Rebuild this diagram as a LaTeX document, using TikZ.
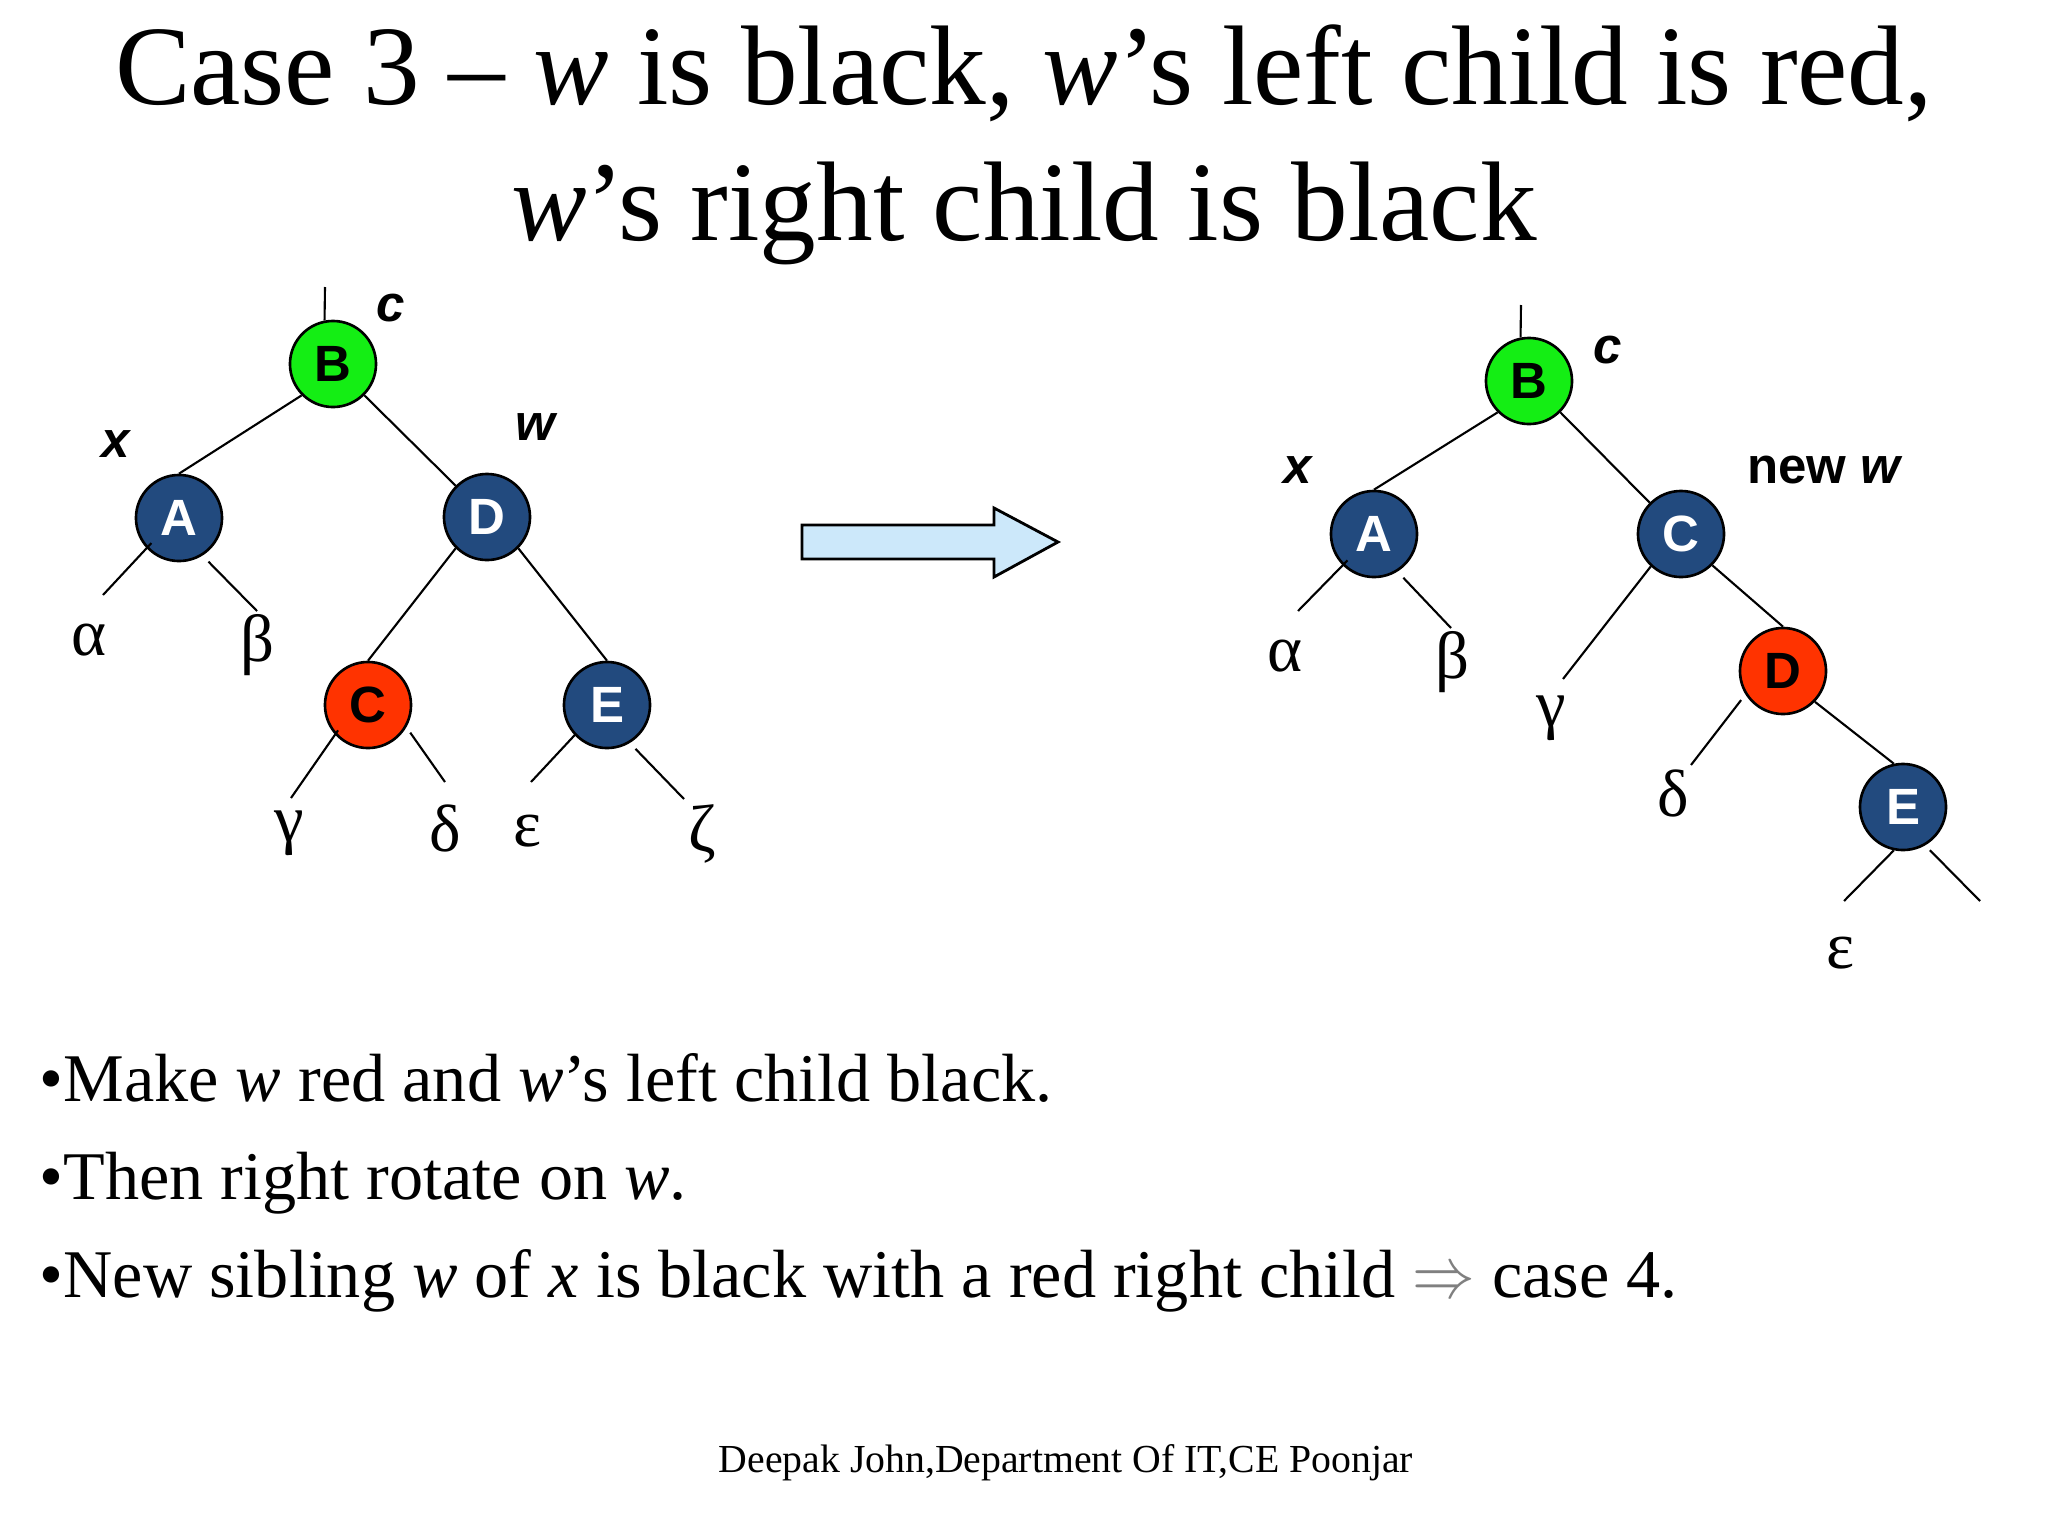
\documentclass[tikz,border=0pt]{standalone}
\usepackage{fontspec}
\usepackage{graphicx}
\setmainfont{Liberation Serif}
\newfontfamily\arialfont{Liberation Sans}
\definecolor{nodeblue}{HTML}{224A7E}
\definecolor{nodered}{HTML}{FF3300}
\definecolor{nodegreen}{HTML}{14EE14}
\definecolor{arrowfill}{HTML}{CCE8FA}
\definecolor{implgray}{HTML}{808080}
\begin{document}
\begin{tikzpicture}[x=0.01cm,y=-0.01cm,
  rb/.style={circle,draw=black,line width=0.75pt,minimum size=0.86cm,inner sep=0pt,font=\arialfont\bfseries\fontsize{14.5}{17}\selectfont},
  bnode/.style={rb,fill=nodeblue,text=white},
  rnode/.style={rb,fill=nodered,text=black},
  gnode/.style={rb,fill=nodegreen,text=black},
  link/.style={line width=0.6pt},
  greek/.style={inner sep=0pt,font=\fontsize{19}{22}\selectfont},
  lbl/.style={inner sep=0pt,font=\arialfont\bfseries\itshape\fontsize{14.5}{17}\selectfont},
  lblup/.style={inner sep=0pt,font=\arialfont\bfseries\fontsize{14.5}{17}\selectfont},
  txt/.style={inner sep=0pt,anchor=base west}
]
\fill[white] (0,0) rectangle (2048,1536);
\useasboundingbox (0,0) rectangle (2048,1536);

% title
\node[anchor=base,inner sep=0pt,font=\fontsize{32.2}{38}\selectfont] (t1) at (1024,104) {Case 3 -- \textit{w} is black, \textit{w}'s left child is red,};
\node[anchor=base,inner sep=0pt,font=\fontsize{32.2}{38}\selectfont] (t2) at (1024,240) {\textit{w}'s right child is black};

% left tree
\node[gnode] (B) at (333,364) {B};
\node[bnode] (A) at (179,518) {A};
\node[bnode] (D) at (487,517) {D};
\node[rnode] (C) at (368,705) {C};
\node[bnode] (E) at (607,705) {E};
\node[lbl] (lc) at (391,308) {c};
\node[lbl] (lx) at (116,444) {x};
\node[lbl] (lw) at (535,427) {w};
\node[greek] (al) at (89,640) {α};
\node[greek] (be) at (257,645) {β};
\node[greek] (ga) at (289,833) {γ};
\node[greek] (de) at (445,828) {δ};
\node[greek] (ep) at (528,831) {ε};
\node[greek] (ze) at (702,834) {ζ};
\coordinate (rootL) at (325,287);
\coordinate (a1) at (103,595);
\coordinate (b1) at (257,611);
\coordinate (g1) at (291,798);
\coordinate (d1) at (445,782);
\coordinate (e1) at (531,782);
\coordinate (z1) at (684,799);
\draw[link] (rootL) -- (B.101);
\draw[link] (B.225) -- (A.north);
\draw[link] (B.-45) -- (D.135);
\draw[link] (D.225) -- (C.north);
\draw[link] (D.-45) -- (E.north);
\draw[link,shorten <=-2pt] (A.223) -- (a1);
\draw[link,shorten <=2.4pt] (A.-58) -- (b1);
\draw[link,shorten <=-1.5pt] (C.222) -- (g1);
\draw[link,shorten <=1.9pt] (C.-30) -- (d1);
\draw[link,shorten <=-0.5pt] (E.223) -- (e1);
\draw[link,shorten <=2.3pt] (E.-59) -- (z1);

% transformation arrow
\draw[line width=0.8pt,fill=arrowfill] (802,525) -- (994,525) -- (994,508) -- (1058,542) -- (994,577) -- (994,559) -- (802,559) -- cycle;

% right tree
\node[gnode] (B2) at (1529,381) {B};
\node[bnode] (A2) at (1374,534) {A};
\node[bnode] (C2) at (1681,534) {C};
\node[rnode] (D2) at (1783,671) {D};
\node[bnode] (E2) at (1903,807) {E};
\node[lbl] (lc2) at (1608,350) {c};
\node[lbl] (lx2) at (1298,470) {x};
\node[lblup] (lw2) at (1825,470) {new \textit{w}};
\node[greek] (al2) at (1285,656) {α};
\node[greek] (be2) at (1452,662) {β};
\node[greek] (ga2) at (1551,718) {γ};
\node[greek] (de2) at (1673,793) {δ};
\node[greek] (ep2) at (1841,953) {ε};
\coordinate (rootR) at (1521,305);
\coordinate (a2) at (1298,611);
\coordinate (b2) at (1451,628);
\coordinate (g2) at (1563,679);
\coordinate (d2) at (1691,765);
\coordinate (e2) at (1844,901);
\coordinate (r2) at (1980,901);
\draw[link] (rootR) -- (B2.101);
\draw[link] (B2.225) -- (A2.north);
\draw[link] (B2.-45) -- (C2.135);
\draw[link] (C2.-45) -- (D2.north);
\draw[link] (D2.-44) -- (E2.102);
\draw[link,shorten <=-2pt] (A2.225) -- (a2);
\draw[link,shorten <=2.4pt] (A2.-58) -- (b2);
\draw[link] (C2.227) -- (g2);
\draw[link,shorten <=2pt] (D2.212) -- (d2);
\draw[link] (E2.258) -- (e2);
\draw[link,shorten <=1.9pt] (E2.-60) -- (r2);

% bullets
\node[txt,font=\fontsize{19.4}{23}\selectfont] (bl1) at (39,1101) {•Make \textit{w} red and \textit{w}'s left child black.};
\node[txt,font=\fontsize{19.4}{23}\selectfont] (bl2) at (39,1199) {•Then right rotate on \textit{w}.};
\node[txt,font=\fontsize{19.4}{23}\selectfont] (bl3) at (39,1297) {•New sibling \textit{w} of \textit{x} is black with a red right child {\color{implgray}\scalebox{0.86}[1]{$\Rightarrow$}} case 4.};

% footer
\node[txt,font=\fontsize{11.3}{14}\selectfont] (ft) at (718,1472) {Deepak John,Department Of IT,CE Poonjar};
\end{tikzpicture}
\end{document}
